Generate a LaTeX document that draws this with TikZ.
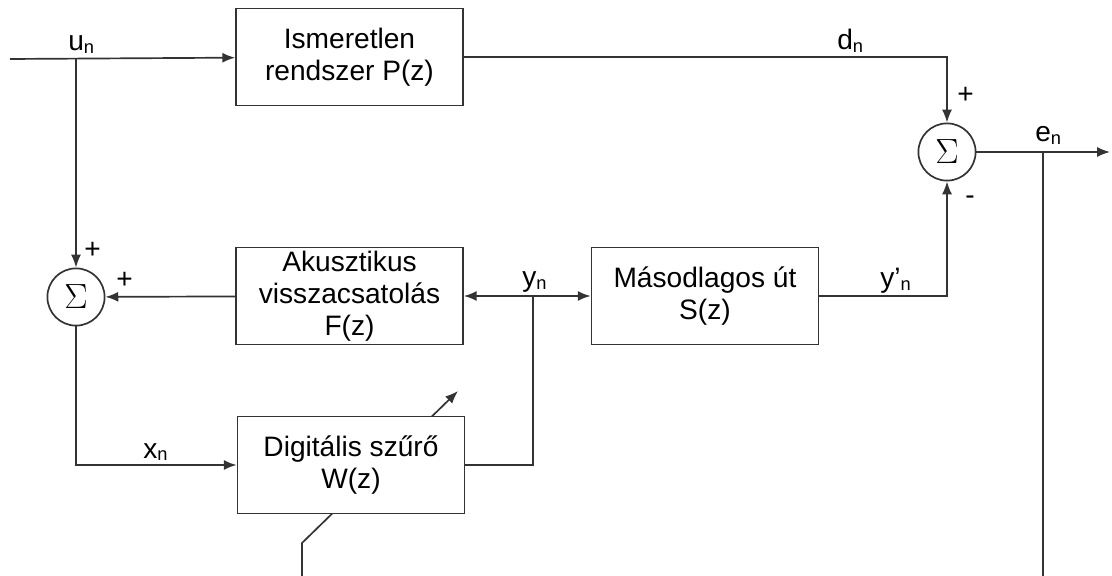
\documentclass[tikz,border=0pt]{standalone}
\usepackage{fontspec}
\setmainfont{Liberation Sans}
\usetikzlibrary{arrows.meta,positioning}
\newcommand{\idx}[1]{\raisebox{-2pt}{\fontsize{13}{13}\selectfont #1}}

\begin{document}
\begin{tikzpicture}
	[   x=0.025cm, y=-0.025cm,
	    block/.style={draw=black!80,fill=white,line width=1.2pt,minimum width=5.675cm,minimum height=2.43cm,align=center,inner sep=0pt,font=\fontsize{20}{22.7}\selectfont},
	    snode/.style={draw=black!80,fill=white,line width=1.2pt,circle,minimum size=1.43cm,inner sep=0pt,font=\fontsize{28}{28}\selectfont},
	    sig/.style={font=\fontsize{20}{20}\selectfont,inner sep=0pt,anchor=base west},
	]
	\tikzset{normal arrow/.style={draw=black!80,line width=1.2pt,-{Latex[length=3.2mm,width=2.5mm]}}}
	\useasboundingbox (0,0) rectangle (1112,576);
	
	% adaptation arrow, under the filter box
	\coordinate (a-0) at (302,576);
	\coordinate (a-1) at (302,543);
	\coordinate (a-2) at (458,391);
	\path[normal arrow] (a-0) -- (a-1) -- (a-2);
	
	\node[block] (P) at (349.5,57) {Ismeretlen\\rendszer P(z)};
	\node[block] (F) at (349.5,296) {Akusztikus\\visszacsatolás\\F(z)};
	\node[block] (S) at (705,296) {Másodlagos út\\S(z)};
	\node[block] (W) at (351,465) {Digitális szűrő\\W(z)};
	\node[snode] (sumL) at (76,297) {$\Sigma$};
	\node[snode] (sumR) at (947,152) {$\Sigma$};
	
	\coordinate (in) at (10,59);
	\coordinate (u) at (76,59);
	\coordinate (y) at (533,296);
	\coordinate (e) at (1043,152);
	\coordinate (out) at (1110,152);
	\coordinate (e-b) at (1043,576);
	
	\path[normal arrow] (in) -- (P);
	\path[normal arrow] (u) -- (sumL);
	\path[normal arrow] (P) -| (sumR);
	\path[normal arrow] (F) -- (sumL);
	\path[normal arrow] (y) -- (F);
	\path[normal arrow] (y) -- (S);
	\path[normal arrow] (S) -| (sumR);
	\path[normal arrow] (sumL) |- (W);
	\path[draw=black!80,line width=1.2pt] (W) -| (y);
	\path[normal arrow] (sumR) -- (out);
	\path[draw=black!80,line width=1.2pt] (e) -- (e-b);
	
	% signals
	\node[sig] (un) at (68,51) {u\idx{n}};
	\node[sig] (dn) at (837,50) {d\idx{n}};
	\node[sig] (en) at (1035,142) {e\idx{n}};
	\node[sig] (yn) at (522,287) {y\idx{n}};
	\node[sig] (ypn) at (880,288) {y’\idx{n}};
	\node[sig] (xn) at (143,458) {x\idx{n}};
	
	% signs
	\node[sig] (p-1) at (84,259) {+};
	\node[sig] (p-2) at (116,289) {+};
	\node[sig] (p-3) at (957,104) {+};
	\node[sig] (m-1) at (965,205) {-};
\end{tikzpicture}
\end{document}
